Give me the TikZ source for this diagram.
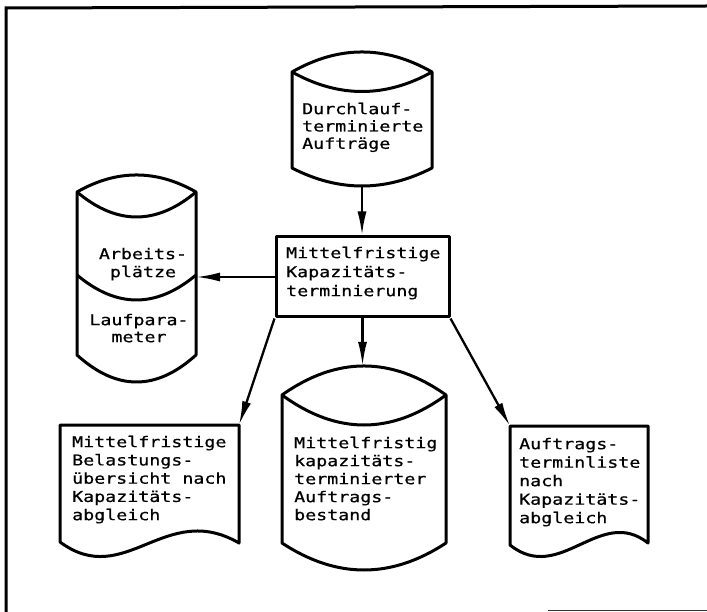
\documentclass[tikz,border=0pt]{standalone}
\usepackage{fontspec}
\newfontfamily\printfont[FakeStretch=1.22, FakeBold=0.6]{DejaVu Sans Mono}
\usetikzlibrary{arrows.meta,calc}
% zero-width strut that fixes the top of every first text line
\newcommand\capline{\rule{0pt}{13pt}}
\begin{document}
\begin{tikzpicture}[x=1pt,y=-1pt,
  outline/.style={line width=3pt, line join=round},
  flow/.style={line width=2.3pt, -{Latex[length=24pt,width=9pt]}},
  txt/.style={font={\printfont\fontsize{15}{18.2}\selectfont}, inner sep=0pt,
              align=left, anchor=north west},
  stepbox/.style={outline, draw, rectangle, minimum width=173pt, minimum height=80pt, inner sep=0pt},
]
\useasboundingbox (0,0) rectangle (707,612);
\fill[white] (0,0) rectangle (707,612);

% sheet frame
\draw[line width=3pt] (6,612) -- (6,8) -- (707,6);
\draw[line width=1.6pt, black!80] (548,610.5) -- (707,610.5);

% central process box
\node[stepbox] (plan) at (362.5,277) {};
\node[txt, font={\printfont\fontsize{15}{19}\selectfont}] (plantext) at (286,245)
  {\capline Mittelfristige\\Kapazitäts-\\terminierung};

% input store: Durchlaufterminierte Auftraege
\draw[outline] (292,72) .. controls (338.7,45.3) and (385.3,45.3) .. (432,72)
  -- (432,168) .. controls (385.3,192) and (338.7,192) .. (292,168) -- cycle;
\draw[outline] (292,72) .. controls (338.7,98) and (385.3,98) .. (432,72);
\coordinate (c1base) at (362,186);
\node[txt, font={\printfont\fontsize{15}{17.3}\selectfont}] (c1text) at (302,101)
  {\capline Durchlauf-\\terminierte\\Aufträge};

% two-part store: Arbeitsplaetze / Laufparameter
\draw[outline] (77,192) .. controls (116.7,169.3) and (156.3,169.3) .. (196,192)
  -- (196,355) .. controls (156.3,391) and (116.7,391) .. (77,355) -- cycle;
\draw[outline] (77,192) .. controls (116.7,225.3) and (156.3,225.3) .. (196,192);
\draw[outline] (77,275) .. controls (116.7,308.3) and (156.3,308.3) .. (196,275);
\coordinate (c2port) at (196,277);
\node[txt, align=center, anchor=north, font={\printfont\fontsize{15}{18}\selectfont}] (c2upper) at (143,246)
  {\capline Arbeits-\\plätze};
\node[txt, align=center, anchor=north, font={\printfont\fontsize{15}{17}\selectfont}] (c2lower) at (139,312)
  {\capline Laufpara-\\meter};

% output store: Auftragsbestand
\draw[outline] (282,395) .. controls (336.7,356.3) and (391.3,356.3) .. (446,395)
  -- (446,543) .. controls (391.3,579) and (336.7,579) .. (282,543) -- cycle;
\draw[outline] (282,395) .. controls (336.7,435) and (391.3,435) .. (446,395);
\coordinate (c3top) at (364,366);
\node[txt, font={\printfont\fontsize{15}{18}\selectfont}] (c3text) at (294,435)
  {\capline Mittelfristig\\kapazitäts-\\terminierter\\Auftrags-\\bestand};

% output document: Belastungsuebersicht
\draw[outline] (60,542) -- (60,425) -- (239,425) -- (239,543)
  .. controls (165,500) and (125,590) .. (60,542) -- cycle;
\coordinate (d1corner) at (239,425);
\node[txt, font={\printfont\fontsize{15}{18.25}\selectfont}] (d1text) at (72,434)
  {\capline Mittelfristige\\Belastungs-\\übersicht nach\\Kapazitäts-\\abgleich};

% output document: Auftragsterminliste
\draw[outline] (510,545) -- (510,426) -- (648,426) -- (648,543)
  .. controls (600,505) and (560,585) .. (510,545) -- cycle;
\coordinate (d2corner) at (510,426);
\node[txt, font={\printfont\fontsize{15}{18.5}\selectfont}] (d2text) at (519,436)
  {\capline Auftrags-\\terminliste\\nach\\Kapazitäts-\\abgleich};

% data flows
\draw[flow] (c1base) -- (c1base |- plan.north);
\draw[flow] (plan.west) -- (c2port);
\draw[flow] (plan.south) -- (plan.south |- c3top);
\draw[flow] (plan.south west) -- (d1corner);
\draw[flow] (plan.south east) -- (d2corner);
\end{tikzpicture}
\end{document}
